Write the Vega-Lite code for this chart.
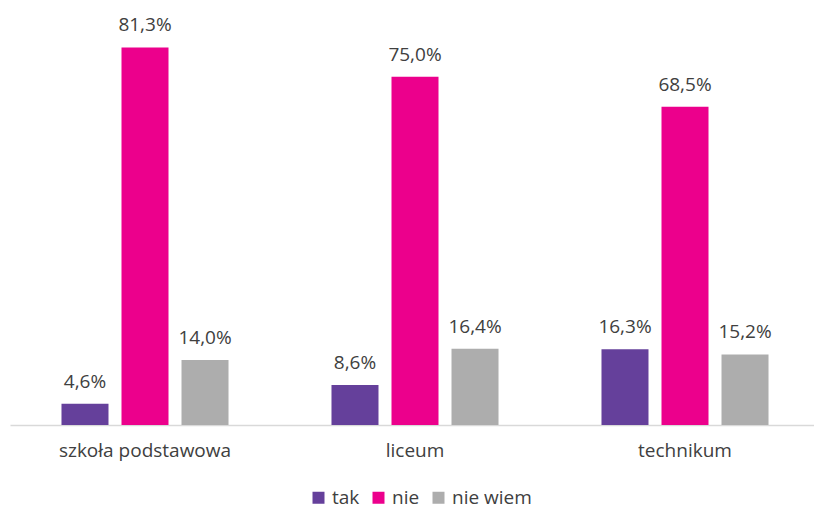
{
  "$schema": "https://vega.github.io/schema/vega-lite/v6.json",
  "width": 804,
  "height": 418,
  "autosize": {"type": "none"},
  "padding": {"left": 10, "top": 7, "right": 0, "bottom": 81},
  "background": "white",
  "config": {
    "view": {"stroke": null},
    "font": "Open Sans",
    "locale": {"number": {"decimal": ",", "thousands": " ", "grouping": [3], "currency": ["", " zł"]}}
  },
  "data": {
    "values": [
      {"szkola": "szkoła podstawowa", "odp": "tak", "v": 0.046},
      {"szkola": "szkoła podstawowa", "odp": "nie", "v": 0.813},
      {"szkola": "szkoła podstawowa", "odp": "nie wiem", "v": 0.140},
      {"szkola": "liceum", "odp": "tak", "v": 0.086},
      {"szkola": "liceum", "odp": "nie", "v": 0.750},
      {"szkola": "liceum", "odp": "nie wiem", "v": 0.164},
      {"szkola": "technikum", "odp": "tak", "v": 0.163},
      {"szkola": "technikum", "odp": "nie", "v": 0.685},
      {"szkola": "technikum", "odp": "nie wiem", "v": 0.152}
    ]
  },
  "encoding": {
    "x": {
      "field": "szkola", "type": "nominal",
      "sort": ["szkoła podstawowa", "liceum", "technikum"],
      "scale": {"range": [0, 810], "paddingInner": 0, "paddingOuter": 0},
      "axis": {
        "title": null, "labelAngle": 0, "ticks": false, "domainColor": "#D9D9D9", "domainWidth": 1.5,
        "labelFontSize": 19, "labelColor": "#404040", "labelPadding": 16, "grid": false
      }
    },
    "xOffset": {
      "field": "odp", "type": "nominal",
      "sort": ["tak", "nie", "nie wiem"],
      "scale": {"paddingInner": 0.2167, "paddingOuter": 0.858}
    },
    "y": {
      "field": "v", "type": "quantitative",
      "scale": {"domain": [0, 0.9], "nice": false},
      "axis": null
    }
  },
  "layer": [
    {
      "mark": {"type": "bar"},
      "encoding": {
        "color": {
          "field": "odp", "type": "nominal",
          "scale": {"domain": ["tak", "nie", "nie wiem"], "range": ["#65409B", "#EC008C", "#ADADAD"]},
          "legend": {
            "title": null, "orient": "none", "direction": "horizontal",
            "legendX": 299, "legendY": 481,
            "symbolType": "square", "symbolSize": 144, "symbolStrokeWidth": 0,
            "labelFontSize": 19, "labelColor": "#404040", "labelOffset": 4,
            "columnPadding": 9, "padding": 0
          }
        }
      }
    },
    {
      "mark": {"type": "text", "baseline": "alphabetic", "dy": -16, "fontSize": 19, "color": "#404040"},
      "encoding": {
        "text": {"field": "v", "type": "quantitative", "format": ".1%"}
      }
    }
  ]
}
